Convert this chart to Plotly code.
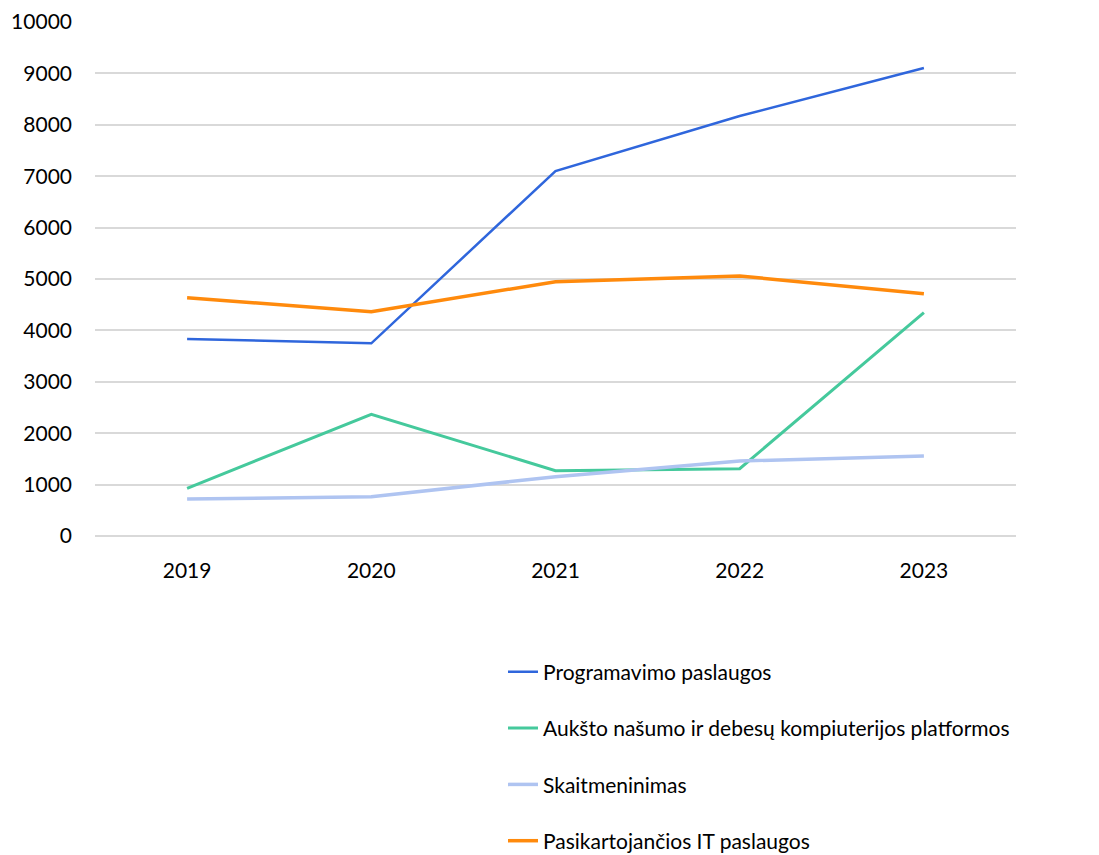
import plotly.graph_objects as go

years = ["2019", "2020", "2021", "2022", "2023"]
programavimo = [3833, 3749, 7101, 8171, 9105]
auksto = [928, 2368, 1270, 1310, 4344]
skaitmeninimas = [720, 765, 1154, 1459, 1556]
pasikartojancios = [4636, 4364, 4948, 5058, 4714]
y_ticks = [0, 1000, 2000, 3000, 4000, 5000, 6000, 7000, 8000, 9000, 10000]

series_names = [
    "Programavimo paslaugos",
    "Aukšto našumo ir debesų kompiuterijos platformos",
    "Skaitmeninimas",
    "Pasikartojančios IT paslaugos",
]
colors = ["#2F66DC", "#45C99C", "#AFC4F1", "#FF8A0C"]
widths = [2.5, 3, 3.5, 3.5]

fig = go.Figure()
for i, (name, vals) in enumerate(zip(series_names, [programavimo, auksto, skaitmeninimas, pasikartojancios])):
    fig.add_trace(go.Scatter(
        x=years, y=vals, mode="lines", name=name,
        line=dict(color=colors[i], width=widths[i]),
        legendgroup=f"g{i}",
    ))

fig.update_layout(
    width=1091, height=847,
    paper_bgcolor="white", plot_bgcolor="white",
    margin=dict(l=87, r=83, t=14, b=319, autoexpand=False),
    font=dict(family="Lato, Open Sans, sans-serif", size=21, color="#000000"),
    showlegend=True,
    legend=dict(
        x=0.443, xanchor="left", y=-0.225, yanchor="top",
        font=dict(size=21, color="#000000"),
        tracegroupgap=26,
        itemwidth=30,
        borderwidth=0,
        bgcolor="rgba(0,0,0,0)",
    ),
    xaxis=dict(
        type="category", range=[-0.5, 4.5], showgrid=False, showline=False, zeroline=False,
        ticks="", tickfont=dict(size=21), ticklabelstandoff=20, automargin=False,
    ),
    yaxis=dict(
        range=[0, 10000], tickvals=y_ticks, ticktext=[str(v) for v in y_ticks],
        showgrid=True, gridcolor="#D9D9D9", gridwidth=1.5,
        zeroline=True, zerolinecolor="#D9D9D9", zerolinewidth=1.5,
        showline=False, ticks="", tickfont=dict(size=21), ticklabelstandoff=22,
        automargin=False,
    ),
)

fig.write_html("out.html")
